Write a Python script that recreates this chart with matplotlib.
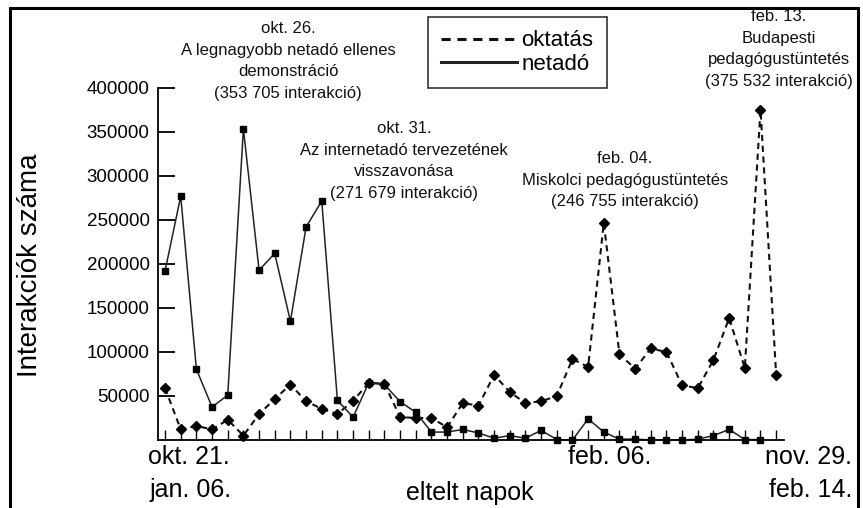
import numpy as np
import matplotlib
matplotlib.use("Agg")
import matplotlib.pyplot as plt
from matplotlib.patches import Rectangle

# napi interakciók, oktatás (40 nap) és netadó (39 nap)
oktatas = [59000, 12000, 16000, 12000, 23000, 5000, 29500, 46500, 63000, 44000,
           35500, 29500, 44500, 65000, 64000, 26000, 25000, 25000, 14500, 42000,
           39000, 74000, 54500, 42000, 44000, 50000, 92000, 83000, 246755, 97500,
           81000, 104000, 100000, 62000, 59000, 91000, 138500, 81800, 375532, 74000]
netado = [192000, 277000, 80500, 37500, 51000, 353705, 193000, 212000, 135000, 242000,
          271679, 45000, 26000, 65000, 63000, 43500, 31500, 9000, 9000, 12000,
          8000, 2000, 5000, 2000, 11000, 500, 0, 24000, 9000, 1000,
          1000, 0, 0, 0, 1000, 5000, 12000, 500, 500]

y_ticks = [50000, 100000, 150000, 200000, 250000, 300000, 350000, 400000]

annotations = [
    ("okt. 26.\nA legnagyobb netadó ellenes\ndemonstráció\n(353 705 interakció)", 288, 61),
    ("okt. 31.\nAz internetadó tervezetének\nvisszavonása\n(271 679 interakció)", 404, 161),
    ("feb. 04.\nMiskolci pedagógustüntetés\n(246 755 interakció)", 625, 180),
    ("feb. 13.\nBudapesti\npedagógustüntetés\n(375 532 interakció)", 779, 49),
]

# the original uses a narrow face; Liberation Sans is the closest one installed
FONT = ["Liberation Sans", "DejaVu Sans"]

W, H = 863, 508
fig = plt.figure(figsize=(W / 100, H / 100), dpi=100)
fig.patch.set_facecolor("white")


def fx(px):
    return px / W


def fy(py):
    return 1 - py / H


ax = fig.add_axes([fx(158), 68 / H, 626 / W, 352 / H])

x_ok = np.arange(len(oktatas))
x_net = np.arange(len(netado))

ax.plot(x_ok, oktatas, color="#111111", lw=1.5, ls=(0, (3, 2.2)),
        marker="D", ms=5, mfc="black", mec="black", clip_on=False, label="oktatás")
ax.plot(x_net, netado, color="#222222", lw=1.1, ls="-",
        marker="s", ms=4.5, mfc="black", mec="black", clip_on=False, label="netadó")

ax.set_xlim(-0.45, 39.5)
ax.set_ylim(0, 400000)
ax.spines["top"].set_visible(False)
ax.spines["right"].set_visible(False)
ax.spines["left"].set_bounds(0, 400000)
for s in ("left", "bottom"):
    ax.spines[s].set_linewidth(1.3)

ax.set_xticks(x_ok)
ax.set_xticklabels([])
ax.tick_params(axis="x", direction="in", length=7, width=1)
ax.set_yticks(y_ticks)
ax.set_yticklabels([str(v) for v in y_ticks], fontsize=13.5, family=FONT)
ax.tick_params(axis="y", direction="in", length=12, width=1.3, pad=6)

leg = ax.legend(loc="upper left", bbox_to_anchor=(fx(428), fy(17)),
                bbox_transform=fig.transFigure, prop={"family": FONT, "size": 16},
                frameon=True, fancybox=False, edgecolor="black", handlelength=3.4,
                handletextpad=0.2, labelspacing=0.1, borderpad=0.6, borderaxespad=0,
                markerscale=0)
leg.get_frame().set_linewidth(1.2)
for h in leg.legend_handles:
    h.set_marker("")
    h.set_linewidth(2.2)

for txt, px, py in annotations:
    fig.text(fx(px), fy(py), txt, ha="center", va="center", multialignment="center",
             fontsize=12, family=FONT, linespacing=1.55, color="#111111")

# date labels under the x axis
fig.text(fx(148), fy(457), "okt. 21.", ha="left", va="center", fontsize=18, family=FONT)
fig.text(fx(150), fy(490), "jan. 06.", ha="left", va="center", fontsize=18, family=FONT)
fig.text(fx(610), fy(457), "feb. 06.", ha="center", va="center", fontsize=18, family=FONT)
fig.text(fx(852), fy(457), "nov. 29.", ha="right", va="center", fontsize=18, family=FONT)
fig.text(fx(852), fy(490), "feb. 14.", ha="right", va="center", fontsize=18, family=FONT)
fig.text(fx(470), fy(493), "eltelt napok", ha="center", va="center", fontsize=18, family=FONT)
fig.text(fx(30), fy(265), "Interakciók száma", ha="center", va="center", rotation=90,
         fontsize=20, family=FONT)

# outer frame
fig.patches.append(Rectangle((fx(10), -0.05), 848 / W, fy(8) + 0.05, transform=fig.transFigure,
                             fill=False, lw=2.2, ec="black"))

fig.savefig("out.png", dpi=100, facecolor="white")
